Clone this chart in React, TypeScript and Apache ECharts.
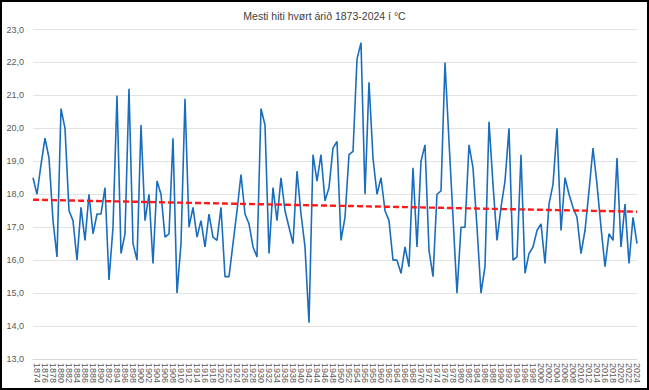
import React, { useEffect, useRef } from "react";
import * as echarts from "echarts";

const years: string[] = [];
for (let y = 1873; y <= 2024; y++) years.push(String(y));

const maxTemp: number[] = [
  18.5, 18.0, 18.9, 19.7, 19.1, 17.2, 16.1, 20.6, 20.0, 17.5,
  17.2, 16.0, 17.6, 16.6, 18.0, 16.8, 17.4, 17.4, 18.2, 15.4,
  17.0, 21.0, 16.2, 16.8, 21.2, 16.5, 16.0, 20.1, 17.2, 18.0,
  15.9, 18.4, 18.0, 16.7, 16.8, 19.7, 15.0, 16.5, 20.9, 17.0,
  17.6, 16.7, 17.2, 16.4, 17.4, 16.7, 16.6, 17.6, 15.5, 15.5,
  16.5, 17.5, 18.6, 17.4, 17.1, 16.4, 16.1, 20.6, 20.1, 16.2,
  18.2, 17.2, 18.5, 17.5, 17.0, 16.5, 18.7, 17.4, 16.4, 14.1,
  19.2, 18.4, 19.2, 17.8, 18.2, 19.4, 19.6, 16.6, 17.3, 19.2,
  19.3, 22.1, 22.6, 18.0, 21.4, 19.1, 18.0, 18.5, 17.5, 17.2,
  16.0, 16.0, 15.6, 16.4, 15.8, 18.8, 16.4, 19.0, 19.5, 16.3,
  15.5, 18.0, 18.1, 22.0, 19.6, 17.3, 15.0, 17.0, 17.0, 19.5,
  18.8, 17.0, 15.0, 15.8, 20.2, 18.3, 16.6, 17.6, 18.4, 20.0,
  16.0, 16.1, 19.2, 15.6, 16.2, 16.4, 16.9, 17.1, 15.9, 17.7,
  18.3, 20.0, 16.9, 18.5, 18.0, 17.6, 17.3, 16.2, 16.9, 18.1,
  19.4, 18.3, 17.0, 15.8, 16.8, 16.6, 19.1, 16.4, 17.7, 15.9,
  17.3, 16.5,
];

const yMin = 13;
const yMax = 23;
const yStep = 1;
const title = "Mesti hiti hvørt árið 1873-2024 í °C";

function linearTrend(vals: number[]): number[] {
  const n = vals.length;
  let sx = 0, sy = 0, sxx = 0, sxy = 0;
  vals.forEach((v, i) => {
    sx += i; sy += v; sxx += i * i; sxy += i * v;
  });
  const b = (n * sxy - sx * sy) / (n * sxx - sx * sx);
  const a = (sy - b * sx) / n;
  return vals.map((_, i) => +(a + b * i).toFixed(4));
}

const trend = linearTrend(maxTemp);

export default function App() {
  const ref = useRef<HTMLDivElement>(null);
  useEffect(() => {
    if (!ref.current) return;
    const chart = echarts.init(ref.current, null, { renderer: "svg" });
    const font = "'Liberation Sans', Arial, sans-serif";
    chart.setOption({
      animation: false,
      backgroundColor: "#ffffff",
      title: {
        text: title,
        left: "center",
        top: 3,
        textStyle: { fontSize: 10.5, fontWeight: "normal", color: "#404040", fontFamily: font },
      },
      grid: { left: 31, right: 10, top: 27.5, bottom: 29, containLabel: false },
      xAxis: {
        type: "category",
        data: years,
        boundaryGap: false,
        axisLine: { show: true, lineStyle: { color: "#d9d9d9", width: 1 } },
        axisTick: { show: false },
        axisLabel: {
          interval: 0,
          hideOverlap: false,
          showMinLabel: true,
          showMaxLabel: true,
          formatter: (v: string, i: number) => (i % 2 === 1 ? v : ""),
          rotate: -90,
          margin: 4,
          fontSize: 9,
          color: "#595959",
          fontFamily: font,
        },
        splitLine: { show: false },
      },
      yAxis: {
        type: "value",
        min: yMin,
        max: yMax,
        interval: yStep,
        axisLine: { show: false },
        axisTick: { show: false },
        axisLabel: {
          margin: 9,
          fontSize: 9,
          color: "#595959",
          fontFamily: font,
          formatter: (v: number) => v.toFixed(1).replace(".", ","),
        },
        splitLine: { lineStyle: { color: "#e3e3e3", width: 1 } },
      },
      series: [
        {
          type: "line",
          data: maxTemp,
          symbol: "none",
          lineStyle: { color: "#1a6dbd", width: 1.6 },
          z: 2,
        },
        {
          type: "line",
          data: trend,
          symbol: "none",
          lineStyle: { color: "#ff1a1a", width: 2.4, type: [6, 3] },
          z: 3,
        },
      ],
    });
    return () => chart.dispose();
  }, []);
  return (
    <div
      style={{
        position: "fixed",
        left: 0,
        top: 0,
        width: 649,
        height: 390,
        boxSizing: "border-box",
        border: "2px solid #000",
        background: "#fff",
      }}
    >
      <div ref={ref} style={{ width: 645, height: 386 }} />
    </div>
  );
}
